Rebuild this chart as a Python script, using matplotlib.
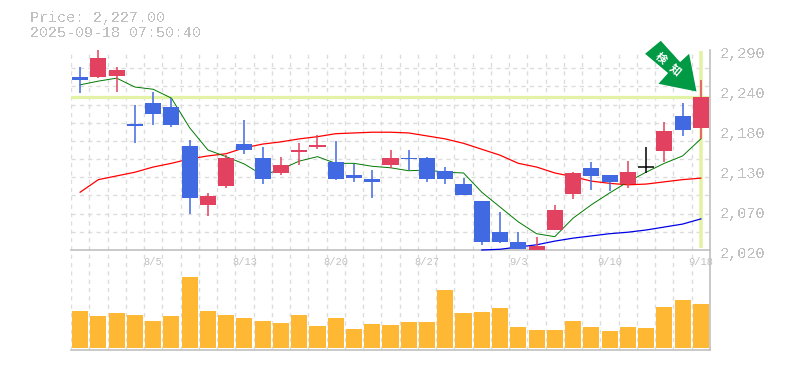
import matplotlib
matplotlib.use('Agg')
import matplotlib.pyplot as plt
import numpy as np
from matplotlib.patches import Polygon
from matplotlib.transforms import Affine2D, ScaledTranslation

price_title = 'Price: 2,227.00'
time_title = '2025-09-18 07:50:40'

opens = [2254, 2254, 2255, 2190, 2218, 2213, 2160, 2081, 2106, 2163, 2144, 2124,
         2152, 2159, 2139, 2121, 2116, 2135, 2144, 2144, 2127, 2109, 2086, 2044,
         2031, 2020, 2047, 2096, 2131, 2121, 2109, 2132, 2154, 2201, 2185]
closes = [2250, 2279, 2263, 2187, 2204, 2189, 2090, 2093, 2144, 2155, 2116, 2135,
          2155, 2162, 2116, 2117, 2112, 2144, 2143, 2116, 2116, 2094, 2031, 2031,
          2021, 2025, 2074, 2124, 2120, 2112, 2125, 2132, 2181, 2182, 2227]
highs = [2267, 2290, 2267, 2216, 2233, 2225, 2168, 2097, 2148, 2196, 2159, 2146,
         2164, 2175, 2167, 2136, 2128, 2155, 2155, 2146, 2132, 2117, 2086, 2071,
         2044, 2038, 2081, 2125, 2139, 2121, 2140, 2159, 2193, 2218, 2250]
lows = [2232, 2252, 2233, 2164, 2189, 2186, 2069, 2066, 2104, 2150, 2109, 2121,
        2135, 2156, 2115, 2112, 2090, 2131, 2128, 2112, 2109, 2094, 2027, 2029,
        2021, 2020, 2047, 2089, 2101, 2100, 2104, 2124, 2139, 2174, 2170]

ma_short = [2243, 2248, 2252, 2240, 2237, 2225, 2185, 2155, 2146, 2136, 2121, 2129,
            2140, 2146, 2137, 2137, 2133, 2131, 2127, 2128, 2125, 2124, 2098, 2078,
            2058, 2042, 2038, 2063, 2081, 2097, 2112, 2125, 2137, 2147, 2170]
ma_mid = [2098, 2115, 2120, 2125, 2132, 2137, 2143, 2147, 2150, 2158, 2163, 2166,
          2170, 2173, 2177, 2178, 2179, 2179, 2178, 2174, 2170, 2164, 2156, 2148,
          2137, 2132, 2124, 2119, 2113, 2110, 2108, 2109, 2112, 2115, 2117]
ma_long = [2020, 2021, 2024, 2027, 2032, 2036, 2039, 2042, 2044, 2047, 2051, 2055, 2062]

volumes = [37, 32, 35, 33, 27, 32, 71, 37, 33, 30, 27, 25, 33, 22, 30, 19, 24, 23,
           26, 26, 58, 35, 36, 40, 21, 18, 18, 27, 21, 17, 21, 20, 41, 48, 44]

y_ticks = [2020, 2074, 2128, 2182, 2236, 2290]
y_labels = ['2,020', '2,070', '2,130', '2,180', '2,240', '2,290']
x_ticks = [4, 9, 14, 19, 24, 29, 34]
x_labels = ['8/5', '8/13', '8/20', '8/27', '9/3', '9/10', '9/18']

UP = '#e2425f'
DOWN = '#4169e1'
LIME = '#e3f3a5'
GREY = '#c0c0c0'
GRID = '#dcdcdc'
MONO = 'Liberation Mono'

W, H = 785, 370
fig = plt.figure(figsize=(W / 100, H / 100), dpi=100)
vol = fig.add_axes([71 / W, 1 - 350 / H, 639 / W, 100 / H])
ax = fig.add_axes([71 / W, 1 - 250 / H, 639 / W, 200 / H])

x = np.arange(len(opens))
slots = np.arange(-0.5, len(opens))

for a in (ax, vol):
    a.set_xlim(-0.5, 34.5)
    a.set_xticks(slots, minor=True)
    a.grid(which='minor', axis='x', color=GRID, lw=1, ls=(0, (3, 3)))
    a.set_axisbelow(True)
    a.patch.set_alpha(0)
    a.tick_params(which='both', length=0)
    for s in ('top', 'left'):
        a.spines[s].set_visible(False)
    a.spines['right'].set_color(GREY)
    a.spines['bottom'].set_color(GREY)
    a.spines['right'].set_linewidth(1.2)
    a.spines['bottom'].set_linewidth(1.2)

# price panel
ax.set_ylim(2020, 2290)
ax.set_yticks(np.linspace(2020, 2290, 12), minor=True)
ax.grid(which='minor', axis='y', color=GRID, lw=1, ls=(0, (3, 3)))
ax.yaxis.tick_right()
ax.set_yticks(y_ticks, y_labels, family=MONO, fontsize=11, color=GREY)
ax.tick_params(axis='y', which='major', pad=7)
shift = ScaledTranslation(0, -3 / 100, fig.dpi_scale_trans)
for t in ax.get_yticklabels():
    t.set_transform(t.get_transform() + shift)
    t.set_antialiased(False)
ax.set_xticks(x_ticks, x_labels, family=MONO, fontsize=7.5, color=GREY)
ax.tick_params(axis='x', which='major', pad=5)

ax.axhline(closes[-1], color=LIME, lw=2.3, zorder=1.5)
ax.vlines(x[-1], 2023, 2288, color=LIME, lw=2.6, zorder=1.5)

ax.plot(x, ma_mid, color='#ff0000', lw=0.9, zorder=2)
ax.plot(x, ma_short, color='#007a00', lw=0.7, zorder=2)
ax.plot(x[-len(ma_long):], ma_long, color='#0000e6', lw=0.9, zorder=2.6, clip_on=False)

colors = [UP if c > o else DOWN if c < o else 'black' for o, c in zip(opens, closes)]
ax.vlines(x, lows, highs, colors=colors, lw=1.1, zorder=3)
for i, o, c, col in zip(x, opens, closes, colors):
    if o == c:
        ax.hlines(o, i - 0.44, i + 0.44, color=col, lw=1.1, zorder=3)
    else:
        ax.bar(i, abs(c - o), bottom=min(o, c), width=0.88, color=col, lw=0, zorder=3)

# arrow pointing at the last candle, offsets in pixels from its tip
arrow = [(0, 0), (-7.4, -37.7), (-16.4, -29.4), (-35.7, -50.7),
         (-51.4, -37.7), (-28.4, -18.4), (-38, -7.7)]
tip_xy = (x[-1] - 0.24, closes[-1] + 7)
tip = ax.transData.transform(tip_xy)
ax.add_patch(Polygon(arrow, closed=True, fc='#009944', ec='none', zorder=5, clip_on=False,
                     transform=Affine2D().scale(1, -1).translate(*tip)))
for glyph, off in (('検', (-35.6, 33.4)), ('知', (-21.6, 21.7))):
    ax.annotate(glyph, xy=tip_xy, xytext=(off[0] * 0.72, off[1] * 0.72), textcoords='offset points',
                rotation=-40, rotation_mode='anchor', ha='center', va='center', color='white',
                fontsize=8, fontweight='bold', family=['Noto Sans CJK JP', 'DejaVu Sans'], zorder=6)

# volume panel
vol.set_ylim(-2, 98)
vol.set_yticks([])
vol.set_xticks([])
vol.bar(x, volumes, width=0.88, color='#ffb833', lw=0, zorder=3)

fig.text(30 / W, 1 - 18 / H, price_title, family=MONO, fontsize=10.8, color=GREY, va='center', antialiased=False)
fig.text(30 / W, 1 - 33 / H, time_title, family=MONO, fontsize=10.8, color=GREY, va='center', antialiased=False)

fig.savefig('out.png', dpi=100)
